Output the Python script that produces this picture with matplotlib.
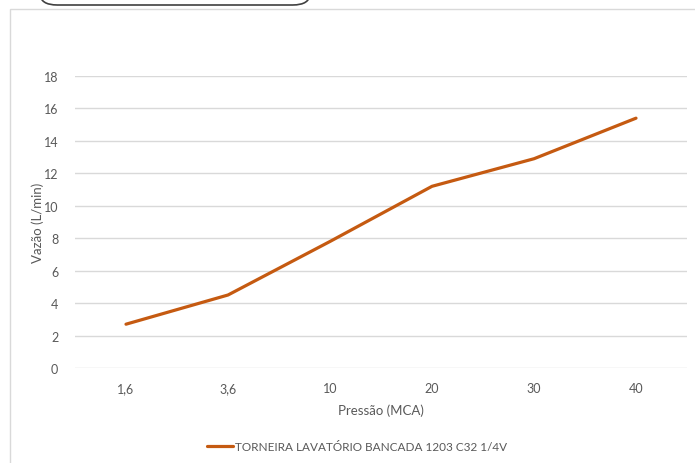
import matplotlib

matplotlib.use("Agg")

import matplotlib.pyplot as plt  # noqa: E402
from matplotlib.patches import FancyBboxPatch, Rectangle  # noqa: E402

# values
pressao = ["1,6", "3,6", "10", "20", "30", "40"]
vazao = [2.7, 4.5, 7.8, 11.2, 12.9, 15.4]
y_ticks = [0, 2, 4, 6, 8, 10, 12, 14, 16, 18]
serie = "TORNEIRA LAVATÓRIO BANCADA 1203 C32 1/4V"

W, H = 695, 464
LINE = "#C55A11"
GRID = "#D9D9D9"
TXT = "#595959"

plt.rcParams["font.family"] = ["Lato", "DejaVu Sans"]

fig = plt.figure(figsize=(W / 100, H / 100), dpi=100)


def px(x0, y0, x1, y1):
    """pixel box (top-left origin) -> figure fraction rect"""
    return [x0 / W, 1 - y1 / H, (x1 - x0) / W, (y1 - y0) / H]


# chart area frame and the cut-off shape above it
fig.patches.append(Rectangle((10 / W, -0.1), 1.1, 1 - 10 / H + 0.1,
                             transform=fig.transFigure, fill=False,
                             edgecolor=GRID, linewidth=1.0))
fig.patches.append(FancyBboxPatch((40 / W, 1 - 6 / H), 270 / W, 30 / H,
                                  boxstyle="round,pad=0,rounding_size=0.025",
                                  transform=fig.transFigure, facecolor="white",
                                  edgecolor="#404040", linewidth=1.2))

ax = fig.add_axes(px(75, 77, 687, 369))
x = range(len(pressao))
ax.plot(x, vazao, color=LINE, linewidth=2.3, solid_capstyle="round",
        solid_joinstyle="round", label=serie)

ax.set_xlim(-0.5, len(pressao) - 0.5)
ax.set_ylim(0, 18)
ax.set_xticks(list(x))
ax.set_xticklabels(pressao)
ax.set_yticks(y_ticks)
ax.grid(axis="y", color=GRID, linewidth=1.0)
ax.set_axisbelow(True)
for s in ax.spines.values():
    s.set_visible(False)
ax.tick_params(length=0, labelsize=9, colors=TXT)
ax.tick_params(axis="x", pad=10)
ax.tick_params(axis="y", pad=12)

ax.set_xlabel("Pressão (MCA)", fontsize=9.5, color=TXT, labelpad=7)
ax.set_ylabel("Vazão (L/min)", fontsize=9.5, color=TXT)
ax.yaxis.set_label_coords(-0.051, 0.5)

ax.legend(loc="center", bbox_to_anchor=(0.461, -0.27), frameon=False,
          fontsize=8.5, labelcolor=TXT, handlelength=2.2, handletextpad=0.2)

fig.savefig("out.png", dpi=100)
